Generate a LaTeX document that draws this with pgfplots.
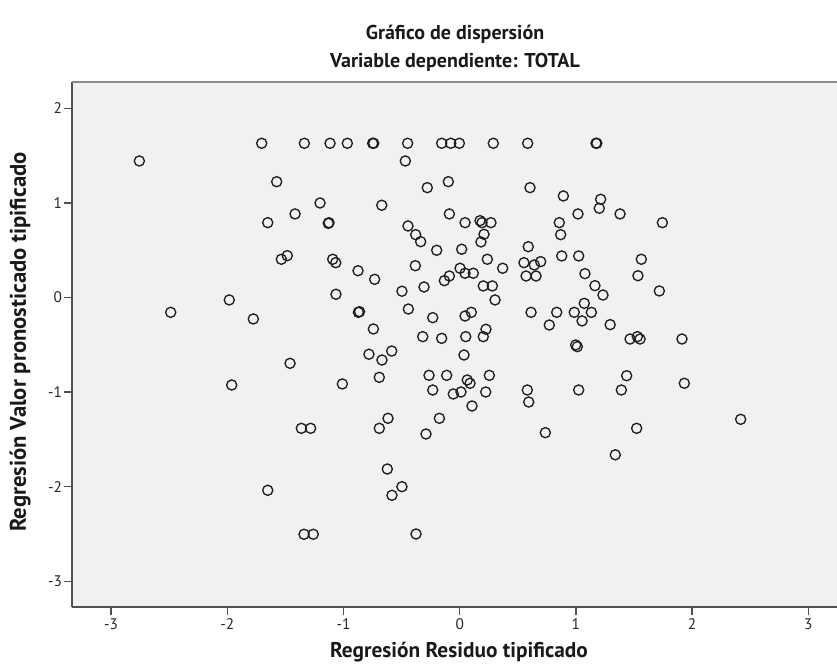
\documentclass[border=0pt]{standalone}
\usepackage{pgfplots}
\pgfplotsset{compat=1.18}
\usepackage{fontspec}
\setmainfont{PT Sans}
\definecolor{bgGray}{HTML}{F1F1F1}
\definecolor{axGray}{HTML}{505050}
\definecolor{topGray}{HTML}{8A8A8A}
\definecolor{mk}{HTML}{1E1E1E}
\begin{document}
\begin{tikzpicture}[x=0.75pt,y=0.75pt]
\useasboundingbox (0,0) rectangle (837,668);
\begin{axis}[
  at={(72.3*0.75pt,60.7*0.75pt)}, anchor=south west,
  scale only axis, width=573.5pt, height=394.2pt,
  xmin=-3.334, xmax=3.247, ymin=-3.275, ymax=2.281,
  axis x line*=bottom, axis y line*=left,
  axis line style={-, axGray, line width=1.3pt},
  axis background/.style={fill=bgGray},
  xtick={-3,-2,-1,0,1,2,3}, xticklabels={-3,-2,-1,0,1,2,3},
  ytick={-3,-2,-1,0,1,2}, yticklabels={-3,-2,-1,0,1,2},
  tick align=outside, major tick length=6pt,
  tick style={axGray, line width=1pt},
  xticklabel style={font=\fontsize{11.5}{13}\selectfont, text=black!85, inner sep=1pt, yshift=-1.5pt},
  yticklabel style={font=\fontsize{11.5}{13}\selectfont, text=black!85, inner sep=1.5pt},
  clip=false,
]
\addplot[only marks, mark=o, mark size=3.8pt, mark options={draw=mk, line width=1pt}] table {
x y
-1.704 1.63
-1.337 1.63
-1.116 1.63
-0.967 1.63
-0.749 1.63
-0.740 1.63
-0.448 1.63
-0.155 1.63
-0.077 1.63
-0.003 1.63
0.289 1.63
0.585 1.63
1.173 1.63
1.180 1.63
-2.757 1.443
-0.468 1.443
-1.575 1.224
-0.098 1.224
-0.279 1.161
0.605 1.161
-1.202 0.999
-0.671 0.975
0.892 1.073
1.213 1.038
1.201 0.943
-1.417 0.883
-0.089 0.883
1.018 0.883
1.380 0.883
-1.652 0.791
-1.131 0.784
-1.125 0.790
0.046 0.791
0.175 0.812
0.192 0.791
0.269 0.791
0.857 0.791
1.744 0.791
-0.445 0.756
-0.379 0.664
0.209 0.668
0.869 0.664
-0.336 0.590
0.183 0.587
-0.198 0.499
0.017 0.510
0.590 0.537
-1.535 0.404
-1.484 0.442
-1.093 0.404
-1.067 0.368
0.238 0.404
0.553 0.368
0.642 0.344
0.697 0.379
0.878 0.439
1.024 0.439
1.563 0.404
-0.382 0.336
0.370 0.309
0.003 0.309
-0.875 0.283
0.046 0.256
0.117 0.256
1.078 0.252
0.571 0.227
0.657 0.227
1.534 0.230
-0.732 0.192
-0.132 0.178
-0.089 0.227
-0.307 0.111
0.203 0.122
0.281 0.122
1.164 0.125
-0.497 0.066
1.718 0.069
-1.065 0.034
1.233 0.026
-1.983 -0.026
0.304 -0.026
1.072 -0.062
-2.487 -0.157
-0.872 -0.157
-0.862 -0.150
-0.442 -0.122
0.100 -0.157
0.614 -0.157
0.835 -0.157
0.986 -0.157
1.133 -0.157
-0.232 -0.213
0.046 -0.196
-1.776 -0.227
1.053 -0.248
0.771 -0.291
1.295 -0.287
-0.743 -0.333
0.226 -0.336
-0.318 -0.414
-0.155 -0.432
0.052 -0.414
0.203 -0.414
1.529 -0.414
1.466 -0.439
1.552 -0.439
1.913 -0.439
0.998 -0.502
1.012 -0.520
-0.585 -0.566
-0.781 -0.600
0.037 -0.608
-0.669 -0.661
-1.460 -0.696
-1.962 -0.925
-1.010 -0.914
-0.692 -0.844
-0.264 -0.823
-0.112 -0.823
0.065 -0.872
0.089 -0.907
0.255 -0.823
1.437 -0.827
1.933 -0.907
-0.232 -0.978
-0.055 -1.020
0.011 -0.999
0.224 -0.999
0.582 -0.978
1.024 -0.978
1.391 -0.978
0.594 -1.105
0.106 -1.147
-0.617 -1.277
-0.175 -1.277
2.418 -1.288
-1.363 -1.383
-1.283 -1.383
-0.692 -1.383
1.523 -1.383
-0.290 -1.443
0.737 -1.429
1.339 -1.663
-1.652 -2.038
-0.623 -1.813
-0.497 -2.000
-0.583 -2.091
-1.340 -2.503
-1.260 -2.503
-0.376 -2.500
};
\draw[topGray, line width=1.6pt] (rel axis cs:0,1) -- (rel axis cs:1,1);
\end{axis}
\node[font=\bfseries\fontsize{15}{17}\selectfont, text=black!90] at (455,634) {Gráfico de dispersión};
\node[font=\bfseries\fontsize{15}{17}\selectfont, text=black!90] at (455,606) {Variable dependiente: TOTAL};
\node[font=\bfseries\fontsize{16}{18}\selectfont, text=black!90] at (459,16) {Regresión Residuo tipificado};
\node[font=\bfseries\fontsize{17}{19}\selectfont, text=black!90, rotate=90] at (20,326) {Regresión Valor pronosticado tipificado};
\end{tikzpicture}
\end{document}
